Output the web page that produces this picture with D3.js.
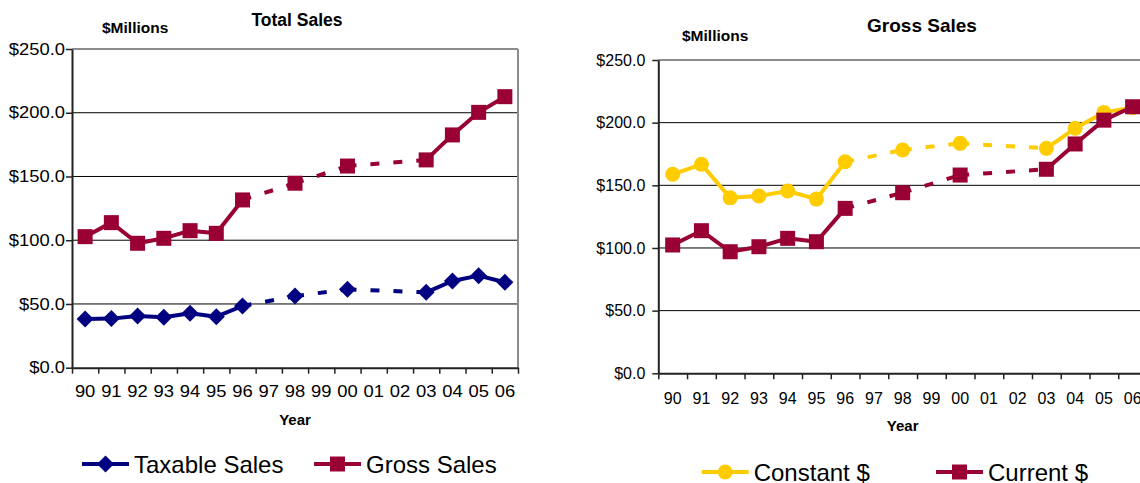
<!DOCTYPE html>
<html>
<head>
<meta charset="utf-8">
<script src="https://cdn.jsdelivr.net/npm/d3@7"></script>
<style>
  body { margin: 0; background: #fff; }
  text { font-family: "Liberation Sans", Arial, sans-serif; fill: #000; }
</style>
</head>
<body>
<svg id="chart" width="1140" height="483"></svg>
<script>
// categories and values
var years = ["90", "91", "92", "93", "94", "95", "96", "97", "98", "99", "00", "01", "02", "03", "04", "05", "06"];
var yTicks = [0, 50, 100, 150, 200, 250];

var taxableSales = [38.2, 38.5, 40.5, 39.5, 42.7, 40.0, 48.4, null, 56.2, null, 61.5, null, null, 59.1, 68.0, 72.2, 67.0];
var grossSales = [102.8, 113.8, 97.6, 101.5, 107.5, 105.4, 131.6, null, 144.7, null, 158.2, null, null, 163.0, 182.6, 200.3, 212.6];
var constantDollars = [158.8, 166.8, 140.0, 141.5, 145.5, 139.0, 168.8, null, 178.2, null, 183.5, null, null, 179.5, 195.5, 208.2, 212.0];
var currentDollars = [102.4, 113.8, 97.0, 101.0, 107.7, 105.0, 131.6, null, 144.1, null, 158.2, null, null, 162.8, 183.0, 202.0, 212.7];

var NAVY = "#000080", MAROON = "#990033", GOLD = "#FFCC00";

var svg = d3.select("#chart");
svg.append("rect").attr("width", 1140).attr("height", 483).attr("fill", "#fff");

// marker shapes
function marker(g, shape, cx, cy, color) {
    if (shape === "square") {
        g.append("rect").attr("x", cx - 7.5).attr("y", cy - 7.5)
            .attr("width", 15).attr("height", 15).attr("fill", color);
    } else if (shape === "diamond") {
        var r = 8.5;
        g.append("path")
            .attr("d", "M" + cx + "," + (cy - r) + "L" + (cx + r) + "," + cy +
                "L" + cx + "," + (cy + r) + "L" + (cx - r) + "," + cy + "Z")
            .attr("fill", color);
    } else {
        g.append("circle").attr("cx", cx).attr("cy", cy).attr("r", 7.5).attr("fill", color);
    }
}

function drawChart(cfg) {
    var g = svg.append("g");

    var x = d3.scaleBand().domain(years).range([cfg.left, cfg.right]);
    var xTickScale = d3.scaleLinear().domain([0, years.length]).range([cfg.left, cfg.right]);
    var y = d3.scaleLinear().domain([0, 250]).range([cfg.bottom, cfg.top]);
    var cx = function (i) { return x(years[i]) + x.bandwidth() / 2; };

    // gridlines
    g.append("g").selectAll("line")
        .data(yTicks.filter(function (d) { return d > 0 && d < 250; }))
        .enter().append("line")
        .attr("x1", cfg.left).attr("x2", cfg.right)
        .attr("y1", function (d) { return y(d); })
        .attr("y2", function (d) { return y(d); })
        .attr("stroke", "#000").attr("stroke-width", 1);

    // plot border top / right (gray)
    g.append("line").attr("x1", cfg.left).attr("x2", cfg.right)
        .attr("y1", y(250)).attr("y2", y(250))
        .attr("stroke", "#8c8c8c").attr("stroke-width", 2);
    g.append("line").attr("x1", cfg.right).attr("x2", cfg.right)
        .attr("y1", cfg.top).attr("y2", cfg.bottom)
        .attr("stroke", "#8c8c8c").attr("stroke-width", 2);

    // y axis
    var yAxis = g.append("g")
        .attr("transform", "translate(" + cfg.left + ",0)")
        .call(d3.axisLeft(y).tickValues(yTicks).tickSize(6).tickSizeOuter(0)
            .tickFormat(function (d) { return "$" + d.toFixed(1); }));
    yAxis.select(".domain").attr("stroke", "#222").attr("stroke-width", 2);
    yAxis.selectAll(".tick line").attr("stroke", "#222").attr("stroke-width", 1.5);
    yAxis.selectAll("text")
        .attr("x", cfg.yLabelGap / cfg.textScale)
        .attr("transform", "scale(" + cfg.textScale + ",1)")
        .style("font-family", "'Liberation Sans', Arial, sans-serif")
        .style("font-size", "16px").attr("fill", "#000");

    // x axis: tick marks between categories, labels centred
    var xTicksAxis = g.append("g")
        .attr("transform", "translate(0," + cfg.bottom + ")")
        .call(d3.axisBottom(xTickScale).tickValues(d3.range(0, years.length + 1))
            .tickSize(6).tickSizeOuter(0).tickFormat(""));
    xTicksAxis.select(".domain").attr("stroke", "#222").attr("stroke-width", 2);
    xTicksAxis.selectAll(".tick line").attr("stroke", "#222").attr("stroke-width", 1.5);

    var xAxis = g.append("g")
        .attr("transform", "translate(0," + cfg.bottom + ")")
        .call(d3.axisBottom(x).tickSize(0));
    xAxis.select(".domain").remove();
    xAxis.selectAll("text")
        .attr("y", cfg.xLabelOffset).attr("dy", "0")
        .attr("transform", "scale(" + cfg.textScale + ",1)")
        .style("font-family", "'Liberation Sans', Arial, sans-serif")
        .style("font-size", "16px").attr("fill", "#000");

    // titles
    g.append("text").text(cfg.title)
        .attr("x", cfg.titleX).attr("y", cfg.titleY)
        .attr("text-anchor", "middle")
        .style("font-weight", "bold").style("font-size", cfg.titleSize + "px");
    g.append("text").text("$Millions")
        .attr("x", cfg.unitX).attr("y", cfg.unitY)
        .style("font-weight", "bold").style("font-size", "15.5px");
    g.append("text").text("Year")
        .attr("x", (cfg.left + cfg.right) / 2).attr("y", cfg.yearY)
        .attr("text-anchor", "middle")
        .style("font-weight", "bold").style("font-size", "15px");

    // series: solid between adjacent years, dashed across missing years
    cfg.series.forEach(function (s) {
        var sg = g.append("g");
        var pts = [];
        s.values.forEach(function (v, i) { if (v !== null) pts.push({ i: i, v: v }); });
        for (var k = 1; k < pts.length; k++) {
            var a = pts[k - 1], b = pts[k];
            sg.append("line")
                .attr("x1", cx(a.i)).attr("y1", y(a.v))
                .attr("x2", cx(b.i)).attr("y2", y(b.v))
                .attr("stroke", s.color).attr("stroke-width", 4)
                .attr("stroke-dasharray", b.i - a.i > 1 ? "9,14" : null);
        }
        pts.forEach(function (p) { marker(sg, s.shape, cx(p.i), y(p.v), s.color); });
    });

    // legend
    cfg.series.forEach(function (s, j) {
        var lx = cfg.legendX[j], ly = cfg.legendY;
        var lg = g.append("g");
        lg.append("line").attr("x1", lx).attr("x2", lx + 47)
            .attr("y1", ly).attr("y2", ly)
            .attr("stroke", s.color).attr("stroke-width", 4);
        marker(lg, s.shape, lx + 23.5, ly, s.color);
        lg.append("text").text(s.name)
            .attr("x", lx + 52).attr("y", ly + 8.5)
            .style("font-size", "24px");
    });
}

drawChart({
    left: 72, right: 518, top: 49, bottom: 367.7,
    textScale: 1.15, yLabelGap: -7, xLabelOffset: 29,
    title: "Total Sales", titleX: 297, titleY: 26, titleSize: 17.5,
    unitX: 102, unitY: 33, yearY: 425,
    legendX: [82, 314], legendY: 464,
    series: [
        { name: "Taxable Sales", values: taxableSales, color: NAVY, shape: "diamond" },
        { name: "Gross Sales", values: grossSales, color: MAROON, shape: "square" }
    ]
});

drawChart({
    left: 658.3, right: 1147, top: 60, bottom: 373.3,
    textScale: 1.0, yLabelGap: -13, xLabelOffset: 30.7,
    title: "Gross Sales", titleX: 922, titleY: 32, titleSize: 19,
    unitX: 682, unitY: 40.7, yearY: 431,
    legendX: [701.7, 936], legendY: 472,
    series: [
        { name: "Constant $", values: constantDollars, color: GOLD, shape: "circle" },
        { name: "Current $", values: currentDollars, color: MAROON, shape: "square" }
    ]
});
</script>
</body>
</html>
